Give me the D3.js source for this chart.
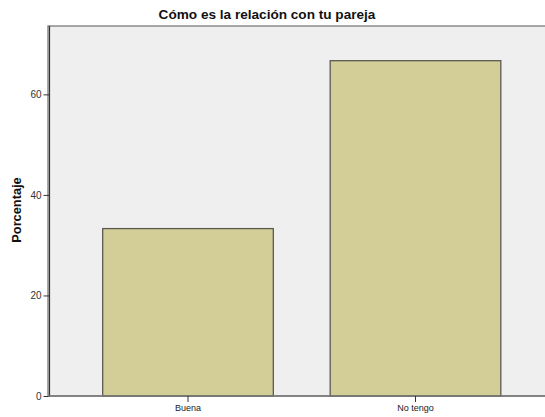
<!DOCTYPE html>
<html><head><meta charset="utf-8">
<script src="https://cdn.jsdelivr.net/npm/d3@7"></script>
<style>body{margin:0;background:#fff}svg{display:block}</style>
</head><body>
<script>
const categories = ["Buena", "No tengo"];
const values = [33.3, 66.7];
const yTicks = [0, 20, 40, 60];
const title = "Cómo es la relación con tu pareja";
const yLabel = "Porcentaje";

const W = 545, H = 417;
const svg = d3.select("body").append("svg").attr("width", W).attr("height", H);
const font = "'Liberation Sans', Arial, sans-serif";

const plotL = 48, plotR = 546, plotT = 26, plotB = 396;
const y = d3.scaleLinear().domain([0, 73.6]).range([plotB, plotT]);
const x = d3.scaleBand().domain(categories).range([74.25, 529.25]).paddingInner(0.25).paddingOuter(0.125);

// plot background + frame
svg.append("rect").attr("x", plotL).attr("y", plotT).attr("width", plotR - plotL).attr("height", plotB - plotT)
  .attr("fill", "#efefef").attr("stroke", "#8a8a8a").attr("stroke-width", 1.5);

// bars
svg.selectAll("rect.bar").data(values).join("rect").attr("class", "bar")
  .attr("x", (d, i) => x(categories[i]))
  .attr("y", d => y(d))
  .attr("width", x.bandwidth())
  .attr("height", d => y(0) - y(d))
  .attr("fill", "#d3ce97").attr("stroke", "#5a5a50").attr("stroke-width", 1.3);

// y axis
const ya = svg.append("g").attr("transform", `translate(49.5,0)`)
  .call(d3.axisLeft(y).tickValues(yTicks).tickSize(6).tickPadding(2).tickFormat(d3.format("d")));
ya.select(".domain").attr("d", `M0,${plotT}V${plotB}`).attr("stroke", "#333").attr("stroke-width", 1.2);
ya.selectAll(".tick line").attr("stroke", "#333");
ya.selectAll(".tick text").attr("font-family", font).attr("font-size", 10).attr("fill", "#333");

// x axis
const xa = svg.append("g").attr("transform", `translate(0,${plotB})`)
  .call(d3.axisBottom(x).tickSize(6).tickPadding(3));
xa.select(".domain").attr("d", `M${plotL},0H${W}`).attr("stroke", "#777").attr("stroke-width", 1.5);
xa.selectAll(".tick line").attr("stroke", "#333");
xa.selectAll(".tick text").attr("font-family", font).attr("font-size", 9).attr("fill", "#222");

// title
svg.append("text").attr("x", 267).attr("y", 19).attr("text-anchor", "middle")
  .attr("font-family", font).attr("font-weight", "bold").attr("font-size", 13.6).attr("fill", "#111").text(title);

// y label
svg.append("text").attr("transform", "translate(21,210) rotate(-90)").attr("text-anchor", "middle")
  .attr("font-family", font).attr("font-weight", "bold").attr("font-size", 12.8).attr("fill", "#111").text(yLabel);
</script>
</body></html>
